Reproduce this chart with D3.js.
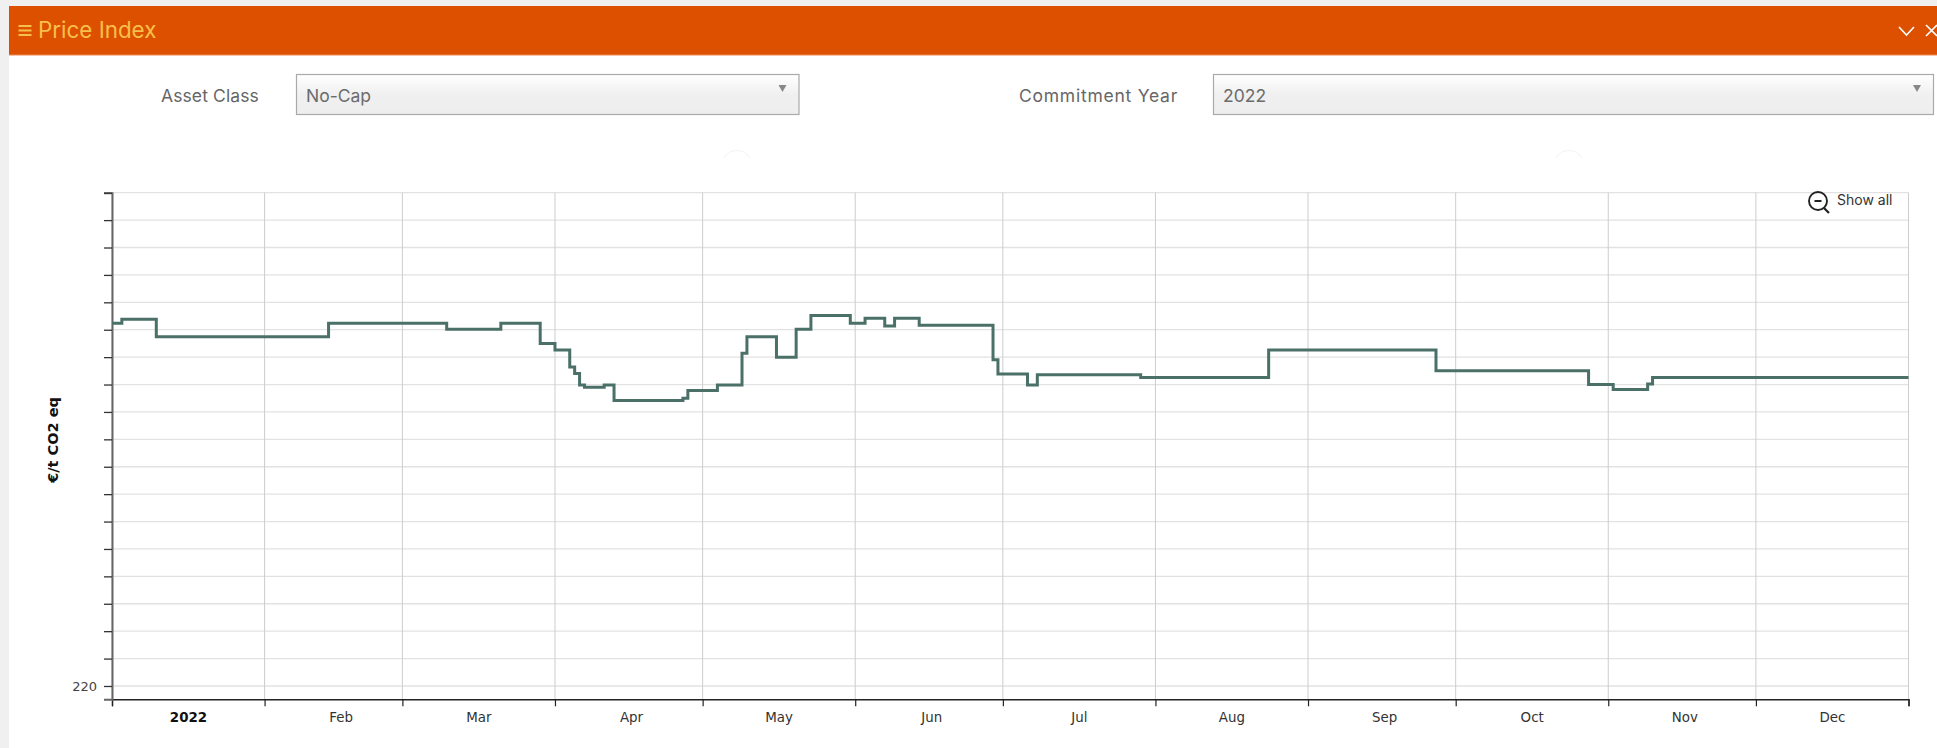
<!DOCTYPE html>
<html><head><meta charset="utf-8">
<script src="https://cdn.jsdelivr.net/npm/d3@7/dist/d3.min.js"></script>
<style>
html,body{margin:0;padding:0;background:#fff;overflow:hidden}
svg{display:block}
.ui{font-family:"Inter","Noto Sans",sans-serif}
.ax{font-family:"DejaVu Sans",sans-serif}
</style></head><body>
<svg id="c" width="1937" height="748"></svg>
<script>
const title = "Price Index";
const assetLabel = "Asset Class", assetValue = "No-Cap";
const yearLabel = "Commitment Year", yearValue = "2022";
const yTitle = "€/t CO2 eq";
const showAll = "Show all";
const monthLabels = ["2022","Feb","Mar","Apr","May","Jun","Jul","Aug","Sep","Oct","Nov","Dec"];
const yTickValues = [220,225,230,235,240,245,250,255,260,265,270,275,280,285,290,295,300,305,310];
const yLabelled = [220];
const dates = ["2022-01-01","2022-01-03","2022-01-10","2022-02-14","2022-03-10","2022-03-21","2022-03-29","2022-04-01","2022-04-04","2022-04-05","2022-04-06","2022-04-07","2022-04-11","2022-04-13","2022-04-27","2022-04-28","2022-05-04","2022-05-09","2022-05-10","2022-05-16","2022-05-20","2022-05-23","2022-05-31","2022-06-03","2022-06-07","2022-06-09","2022-06-14","2022-06-29","2022-06-30","2022-07-06","2022-07-08","2022-07-29","2022-08-24","2022-09-27","2022-10-28","2022-11-02","2022-11-09","2022-11-10","2023-01-01"];
const prices = [286.2,286.9,283.7,286.2,285.1,286.2,282.5,281.3,278.2,277.0,274.9,274.5,274.9,272.1,272.5,273.9,274.9,280.7,283.7,280.0,285.1,287.6,286.2,287.1,285.7,287.1,285.8,279.5,276.9,274.9,276.8,276.3,281.3,277.5,275.0,274.1,275.1,276.3,276.3];

const svg = d3.select("#c");
const parse = d3.utcParse("%Y-%m-%d");
const rows = dates.map((d,i)=>({date:parse(d),v:prices[i]}));
const L=112,R=1908.5,T=192.7,B=699.3;
const x = d3.scaleUtc().domain([parse("2022-01-01"),parse("2023-01-01")]).range([L,R]);
const y = d3.scaleLinear().domain([217.57,310]).range([B,T]);

// page frame
svg.append("rect").attr("width",1937).attr("height",748).attr("fill","#f0f0f0");
svg.append("rect").attr("x",9).attr("y",6).attr("width",1928).attr("height",742).attr("fill","#fff");
svg.append("rect").attr("x",9).attr("y",6).attr("width",1928).attr("height",49).attr("fill","#dc5000");
svg.append("line").attr("x1",9).attr("x2",1937).attr("y1",55).attr("y2",55).attr("stroke","#f08a50");

// header
const gold="#f7c04a";
svg.append("g").selectAll("rect").data([25,29.5,34]).join("rect")
  .attr("x",18.5).attr("y",d=>d).attr("width",13).attr("height",2).attr("fill",gold);
svg.append("text").attr("class","ui").attr("x",38).attr("y",38).attr("font-size",22.4).attr("fill",gold).text(title);
svg.append("path").attr("d","M1899 27 L1906.5 35 L1914 27").attr("fill","none").attr("stroke","#fff").attr("stroke-width",1.6);
svg.append("path").attr("d","M1926 25 L1937 36 M1937 25 L1926 36").attr("fill","none").attr("stroke","#fff").attr("stroke-width",1.6);

// selects
const defs = svg.append("defs");
const gr = defs.append("linearGradient").attr("id","sel").attr("x1",0).attr("x2",0).attr("y1",0).attr("y2",1);
gr.append("stop").attr("offset","0").attr("stop-color","#fff");
gr.append("stop").attr("offset","0.5").attr("stop-color","#f0f0f0");
gr.append("stop").attr("offset","1").attr("stop-color","#eeeeee");
function select(x0,x1,lx,label,value,ls){
  svg.append("rect").attr("x",x0+.5).attr("y",74.5).attr("width",x1-x0).attr("height",40).attr("fill","url(#sel)").attr("stroke","#aaa").attr("stroke-width",1.2);
  svg.append("text").attr("class","ui").attr("x",lx).attr("y",102).attr("font-size",17.5).attr("letter-spacing",ls).attr("fill","#666").text(label);
  svg.append("text").attr("class","ui").attr("x",x0+10).attr("y",102).attr("font-size",17.5).attr("fill","#6b6b6b").text(value);
  svg.append("path").attr("d",`M${x1-20} 85 h8 l-4 7 z`).attr("fill","#888");
}
select(296,798.5,161,assetLabel,assetValue,0.1);
select(1213,1933,1019,yearLabel,yearValue,0.75);

// faint arcs above the plot
svg.append("g").selectAll("path").data([737,1569]).join("path")
  .attr("d",d=>`M${d-13} 158 A15 15 0 0 1 ${d+13} 158`).attr("fill","none").attr("stroke","#f3f3f3");

// grid
const monthTicks = d3.utcMonth.range(parse("2022-01-01"),parse("2023-01-02"));
svg.append("g").selectAll("line").data(yTickValues).join("line")
  .attr("x1",L).attr("x2",R).attr("y1",d=>y(d)).attr("y2",d=>y(d)).attr("stroke","#e2e2e2").attr("stroke-width",1.3);
svg.append("g").selectAll("line").data(monthTicks).join("line")
  .attr("x1",d=>x(d)).attr("x2",d=>x(d)).attr("y1",T).attr("y2",B).attr("stroke","#cdcdcd").attr("stroke-width",1);

// x axis
const gx = svg.append("g").attr("class","ax").attr("transform",`translate(0,${B})`)
  .call(d3.axisBottom(x).tickValues(monthTicks).tickSize(7).tickFormat((d,i)=>monthLabels[i]||""));
gx.select(".domain").attr("stroke","#222").attr("stroke-width",1.4);
gx.selectAll(".tick line").attr("stroke","#222").attr("stroke-width",1.2);
gx.selectAll(".tick text").attr("dx",76).attr("y",13).attr("font-size",13.4).attr("font-family","DejaVu Sans").attr("fill","#333")
  .attr("font-weight",(d,i)=>i===0?"bold":"normal").style("fill",(d,i)=>i===0?"#111":"#333");

// y axis
const gy = svg.append("g").attr("class","ax").attr("transform",`translate(${L},0)`)
  .call(d3.axisLeft(y).tickValues(yTickValues).tickSize(8).tickFormat(d=>yLabelled.includes(d)?d:""));
gy.select(".domain").attr("stroke","#666").attr("stroke-width",2);
gy.selectAll(".tick line").attr("stroke","#333").attr("stroke-width",1.3);
gy.selectAll(".tick text").attr("x",-15).attr("font-size",13).attr("font-family","DejaVu Sans").attr("fill","#444");

svg.append("text").attr("class","ax").attr("transform","translate(58,440) rotate(-90)")
  .attr("text-anchor","middle").attr("font-size",14.5).attr("font-weight","bold").attr("fill","#111").text(yTitle);

// line
const line = d3.line().x(d=>x(d.date)).y(d=>y(d.v)).curve(d3.curveStepAfter);
svg.append("path").datum(rows).attr("d",line).attr("fill","none").attr("stroke","#4a7068").attr("stroke-width",3);

// show all
const sa = svg.append("g").attr("transform","translate(1818,201)");
sa.append("circle").attr("r",9).attr("fill","none").attr("stroke","#222").attr("stroke-width",1.9);
sa.append("line").attr("x1",6).attr("y1",7).attr("x2",11).attr("y2",12).attr("stroke","#222").attr("stroke-width",2.2);
sa.append("line").attr("x1",-3.5).attr("x2",3.5).attr("stroke","#222").attr("stroke-width",2);
svg.append("text").attr("class","ui").attr("x",1837).attr("y",205).attr("font-size",14).attr("fill","#333").text(showAll);
</script></body></html>
